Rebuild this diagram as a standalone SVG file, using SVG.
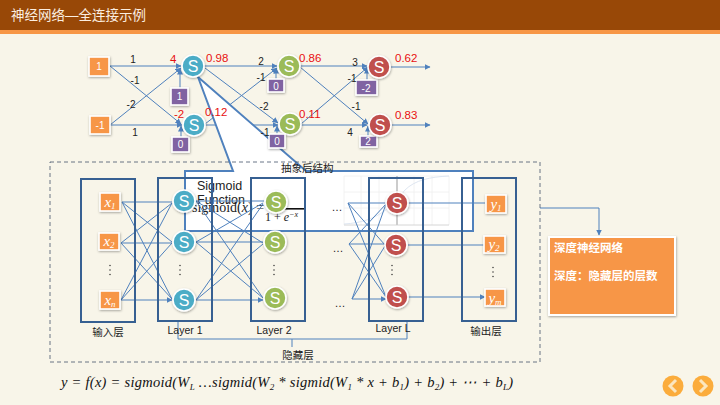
<svg xmlns="http://www.w3.org/2000/svg" width="720" height="405" viewBox="0 0 720 405">
<style>
text{font-family:"Liberation Sans","Noto Sans CJK SC",sans-serif;fill:#222}
.c{fill:none;stroke:#4f81bd;stroke-width:1}
.ca{fill:none;stroke:#4f81bd;stroke-width:1;marker-end:url(#a)}
.lay{fill:none;stroke:#376092;stroke-width:2}
.w{font-size:10px;text-anchor:middle}
.r{font-size:11.5px;fill:#e81010}
.o{fill:#f79646;stroke:#fff;stroke-width:1.6;filter:url(#s)}
.p{fill:#8064a2;stroke:#fff;stroke-width:1.6;filter:url(#s)}
.st{font-size:16px;fill:#fff;text-anchor:middle}
.bt{font-size:10px;fill:#fff;text-anchor:middle}
.m{font-family:"Liberation Serif",serif;font-style:italic;fill:#fff;font-size:15px;text-anchor:middle}
.b{fill:#4bacc6}.g{fill:#9bbb59}.d{fill:#c0504d}
.n{stroke:#fff;stroke-width:1.6;filter:url(#s)}
.l{font-size:10.5px;text-anchor:middle}
.dots{font-size:11px;text-anchor:middle}
.eq{font-family:"Liberation Serif",serif;font-style:italic;font-size:14.5px;fill:#111}
</style>
<defs>
<marker id="a" markerWidth="7" markerHeight="6" refX="5.5" refY="3" orient="auto" markerUnits="userSpaceOnUse"><path d="M0 0L6 3L0 6Z" fill="#4f81bd"/></marker>
<filter id="s" x="-30%" y="-30%" width="160%" height="160%"><feDropShadow dx="0.5" dy="1" stdDeviation="0.8" flood-color="#000" flood-opacity="0.35"/></filter>
<g id="dv"><circle cx="0" cy="-4.500" r="0.7" fill="#222"/><circle cx="0" cy="0" r="0.7" fill="#222"/><circle cx="0" cy="4.500" r="0.7" fill="#222"/></g>
</defs>
<rect width="720" height="405" fill="#f8f5e9"/>
<g id="header"><rect width="720" height="30" fill="#984807"/><rect y="30" width="720" height="4" fill="#f79646"/>
<text x="11" y="20" font-size="13.5" style="fill:#fbeee0">神经网络—全连接示例</text></g>

<g id="top-connectors">
<path class="ca" d="M110 66H181"/><path class="ca" d="M110 66L181 124"/><path class="ca" d="M110 125L181 68"/><path class="ca" d="M110 125H182"/>
<path class="ca" d="M180 88V69"/><path class="ca" d="M181 137V126"/>
<path class="ca" d="M204 66H277"/><path class="ca" d="M205 68L278 123"/><path class="ca" d="M205 125H278"/><path class="ca" d="M205 124L277 68"/>
<path class="ca" d="M276 79V68"/><path class="ca" d="M277 134V126"/>
<path class="ca" d="M300 66H367"/><path class="ca" d="M300 67L368 124"/><path class="ca" d="M301 125H367"/><path class="ca" d="M301 124L368 67"/>
<path class="ca" d="M367 80V68"/><path class="ca" d="M368 136V126"/>
<path class="ca" d="M391 67H430"/><path class="ca" d="M392 125H430"/>
</g>
<g id="in1"><rect class="o" x="89" y="57" width="20" height="19"/><text class="bt" x="99" y="70">1</text></g>
<g id="in2"><rect class="o" x="90" y="116" width="20" height="18"/><text class="bt" x="100" y="129">-1</text></g>
<g id="b1"><rect class="p" x="171" y="88" width="17" height="17"/><text class="bt" x="179.500" y="100">1</text></g>
<g id="b2"><rect class="p" x="172" y="137" width="17" height="15"/><text class="bt" x="180.500" y="148">0</text></g>
<g id="b3"><rect class="p" x="268" y="79" width="16" height="13"/><text class="bt" x="276" y="90">0</text></g>
<g id="b5"><rect class="p" x="356" y="80" width="21" height="15"/><text class="bt" x="366" y="92">-2</text></g>
<g id="b6"><rect class="p" x="360" y="136" width="17" height="11"/><text class="bt" x="368" y="145">2</text></g>
<g id="s21"><circle class="n g" cx="289" cy="66" r="11"/><text class="st" x="289" y="72">S</text></g>
<g id="s22"><circle class="n g" cx="290" cy="124" r="11"/><text class="st" x="290" y="130">S</text></g>
<g id="s31"><circle class="n d" cx="379" cy="67" r="11"/><text class="st" x="379" y="73">S</text></g>
<g id="s32"><circle class="n d" cx="380" cy="125" r="11"/><text class="st" x="380" y="131">S</text></g>

<g id="callout">
<path d="M198 77L233 171H185V231H473V171H306Z" fill="#fff" stroke="#4f81bd" stroke-width="2"/>
<g id="b4"><rect class="p" x="269" y="134" width="16" height="14"/><text class="bt" x="277" y="145">0</text></g>
<g id="plot" stroke="#efefef" fill="none" stroke-width="0.8">
<path d="M344 176V225M361 176V225M379 176V225M397 176V225M414 176V225M432 176V225M449 176V225M344 176H449M344 192H449M344 208H449"/>
<path d="M344 225H449" stroke="#ccc"/><path d="M397 176V225" stroke="#ccc" stroke-width="2"/>
<path d="M344 224C380 222 392 205 405 190C415 180 430 177 449 176" stroke="#d5e0ee"/>
</g>
<text x="197" y="190" font-size="12.500">Sigmoid</text>
<text x="197" y="204" font-size="12.500">Function</text>
<text x="192" y="212" font-size="14" style="font-family:'Liberation Serif',serif">sigmoid(<tspan font-style="italic">x</tspan>) =</text>
<rect x="276" y="208" width="28" height="1.600" fill="#111"/>
<text x="265" y="221" font-size="12" style="font-family:'Liberation Serif',serif">1 + <tspan font-style="italic">e</tspan><tspan font-size="8" dy="-4" font-style="italic">−x</tspan></text>
<text x="281" y="172" font-size="10.500">抽象后结构</text>
</g>
<g id="s11"><circle class="n b" cx="193" cy="66" r="11"/><text class="st" x="193" y="72">S</text></g>
<g id="s12"><circle class="n b" cx="194" cy="125" r="11"/><text class="st" x="194" y="131">S</text></g>
<g id="top-labels">
<text class="w" x="133" y="63">1</text><text class="w" x="135" y="84">-1</text><text class="w" x="131" y="108">-2</text><text class="w" x="135" y="136">1</text>
<text class="w" x="261" y="65">2</text><text class="w" x="261" y="81">-1</text><text class="w" x="264" y="110">-2</text><text class="w" x="265" y="136">-1</text>
<text class="w" x="355" y="66">3</text><text class="w" x="352" y="82">-1</text><text class="w" x="356" y="110">-1</text><text class="w" x="350" y="136">4</text>
<text x="170" y="63" font-size="11.5" style="fill:#e81010">4</text><text x="174" y="118" font-size="11.5" style="fill:#e81010">-2</text>
<text class="r" x="206" y="62">0.98</text><text class="r" x="205" y="116">0.12</text><text class="r" x="299" y="62">0.86</text><text class="r" x="299" y="118">0.11</text><text class="r" x="395" y="62">0.62</text><text class="r" x="395" y="119">0.83</text>
</g>

<g id="lower-connectors">
<path class="ca" d="M122 202H172M122 202L172 242M122 202L172 299M121 243L172 203M121 243H172M121 243L172 299M121 300L172 203M121 300L172 243M121 300H172"/>
<path class="ca" d="M196 201H264M196 201L263 243M196 201L263 298M196 242L263 203M196 242H263M196 242L263 298M196 300L263 204M196 300L263 244M196 300H263"/>
<path class="ca" d="M348 203H386M348 203L385 245M348 203L386 297M349 244L386 204M349 244H385M349 244L386 297M352 299L386 204M352 299L385 246M352 299H386"/>
<path class="ca" d="M408 203H485M408 245H484M408 297H485"/>
<path class="c" d="M178 322V339H407V322M292 339V347"/>
<path class="ca" d="M540 208H599V235"/>
</g>
<rect id="frame" x="50" y="162" width="490" height="200" fill="none" stroke="#44546a" stroke-width="0.8" stroke-dasharray="4 3"/>
<g id="input-layer"><rect class="lay" x="81" y="179" width="54" height="143"/><text class="l" x="108" y="336">输入层</text></g>
<g id="layer1"><rect class="lay" x="158" y="178" width="54" height="143"/><text class="l" x="185" y="334">Layer 1</text></g>
<g id="layer2"><rect class="lay" x="251" y="178" width="54" height="143"/><text class="l" x="274" y="334">Layer 2</text></g>
<g id="layerL"><rect class="lay" x="369" y="178" width="54" height="143"/><text class="l" x="393" y="332">Layer L</text></g>
<g id="output-layer"><rect class="lay" x="462" y="178" width="54" height="143"/><text class="l" x="486" y="335">输出层</text></g>
<text id="hidden-label" class="l" x="298" y="359">隐藏层</text>

<g id="x1"><rect class="o" x="100" y="193" width="20" height="18"/><text class="m" x="110" y="207">x<tspan font-size="9" dy="2">1</tspan></text></g>
<g id="x2"><rect class="o" x="99" y="233" width="20" height="17"/><text class="m" x="109" y="246">x<tspan font-size="9" dy="2">2</tspan></text></g>
<g id="xn"><rect class="o" x="100" y="291" width="20" height="18"/><text class="m" x="110" y="305">x<tspan font-size="9" dy="2">n</tspan></text></g>
<use href="#dv" x="110" y="270"/><use href="#dv" x="180" y="270"/><use href="#dv" x="274" y="270"/><use href="#dv" x="392" y="270"/><use href="#dv" x="493" y="272"/>
<g id="y1"><rect class="o" x="486" y="195" width="20" height="18"/><text class="m" x="496" y="209">y<tspan font-size="9" dy="2">1</tspan></text></g>
<g id="y2"><rect class="o" x="484" y="236" width="21" height="17"/><text class="m" x="494" y="249">y<tspan font-size="9" dy="2">2</tspan></text></g>
<g id="ym"><rect class="o" x="485" y="289" width="20" height="17"/><text class="m" x="495" y="303">y<tspan font-size="9" dy="2">m</tspan></text></g>

<g id="l11"><circle class="n b" cx="184" cy="201" r="11"/><text class="st" x="184" y="207">S</text></g>
<g id="l12"><circle class="n b" cx="184" cy="242" r="11"/><text class="st" x="184" y="248">S</text></g>
<g id="l13"><circle class="n b" cx="184" cy="300" r="11"/><text class="st" x="184" y="306">S</text></g>
<g id="l21"><circle class="n g" cx="276" cy="202" r="11"/><text class="st" x="276" y="208">S</text></g>
<g id="l22"><circle class="n g" cx="275" cy="242" r="11"/><text class="st" x="275" y="248">S</text></g>
<g id="l23"><circle class="n g" cx="275" cy="298" r="11"/><text class="st" x="275" y="304">S</text></g>
<g id="l31"><circle class="n d" cx="397" cy="203" r="11"/><text class="st" x="397" y="209">S</text></g>
<g id="l32"><circle class="n d" cx="396" cy="245" r="11"/><text class="st" x="396" y="251">S</text></g>
<g id="l33"><circle class="n d" cx="397" cy="297" r="11"/><text class="st" x="397" y="303">S</text></g>
<text class="dots" x="337" y="211">…</text><text class="dots" x="338" y="252">…</text><text class="dots" x="340" y="307">…</text>

<g id="note"><rect x="549" y="237" width="126" height="78" fill="#f79646" stroke="#fff" stroke-width="2" filter="url(#s)"/>
<text x="554" y="252" font-size="11.500" font-weight="bold" style="fill:#fff">深度神经网络</text>
<text x="554" y="280" font-size="11.500" font-weight="bold" style="fill:#fff">深度：隐藏层的层数</text></g>

<text id="equation" class="eq" x="61" y="387" textLength="452" lengthAdjust="spacing">y = f(x) = sigmoid(W<tspan font-size="9" dy="3">L</tspan><tspan dy="-3"> …sigmid(W</tspan><tspan font-size="9" dy="3">2</tspan><tspan dy="-3"> * sigmid(W</tspan><tspan font-size="9" dy="3">1</tspan><tspan dy="-3"> * x + b</tspan><tspan font-size="9" dy="3">1</tspan><tspan dy="-3">) + b</tspan><tspan font-size="9" dy="3">2</tspan><tspan dy="-3">) + ⋯ + b</tspan><tspan font-size="9" dy="3">L</tspan><tspan dy="-3">)</tspan></text>

<g id="prev"><circle cx="673" cy="386" r="10.500" fill="#fbac3c"/><path d="M676 380L670 386L676 392" fill="none" stroke="#fbe6bf" stroke-width="3"/></g>
<g id="next"><circle cx="703" cy="386" r="10.500" fill="#fbac3c"/><path d="M700 380L706 386L700 392" fill="none" stroke="#fbe6bf" stroke-width="3"/></g>
</svg>
